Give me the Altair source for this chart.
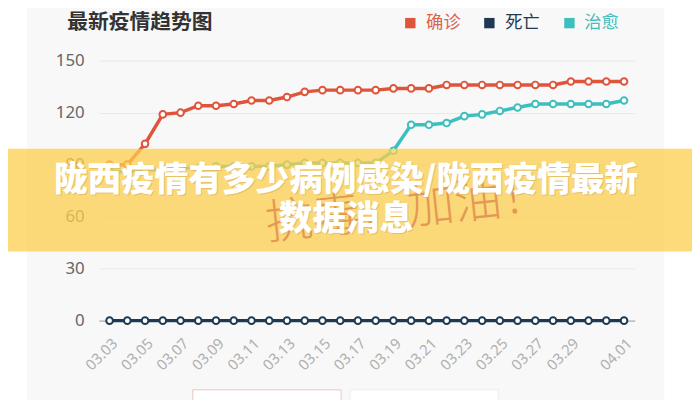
import altair as alt
import pandas as pd

# ---- data ----
dates = ["03.03", "03.04", "03.05", "03.06", "03.07", "03.08", "03.09", "03.10",
         "03.11", "03.12", "03.13", "03.14", "03.15", "03.16", "03.17", "03.18",
         "03.19", "03.20", "03.21", "03.22", "03.23", "03.24", "03.25", "03.26",
         "03.27", "03.28", "03.29", "03.30", "03.31", "04.01"]
confirmed = [90, 90, 102, 119, 120, 124, 124, 125, 127, 127, 129, 132, 133, 133, 133,
             133, 134, 134, 134, 136, 136, 136, 136, 136, 136, 136, 138, 138, 138, 138]
deaths = [0] * 30
cured = [86, 86, 87, 87, 88, 88, 89, 89, 89, 89, 90, 91, 91, 91, 91,
         91, 98, 113, 113, 114, 118, 119, 121, 123, 125, 125, 125, 125, 125, 127]
series = ["确诊", "死亡", "治愈"]
colors = ["#de553c", "#1e3a52", "#3dbfbe"]
legend_text_colors = ["#d9634f", "#223a50", "#45bcbc"]
x_labels = ["03.03", "03.05", "03.07", "03.09", "03.11", "03.13", "03.15", "03.17",
            "03.19", "03.21", "03.23", "03.25", "03.27", "03.29", "04.01"]
y_ticks = [0, 30, 60, 90, 120, 150]
chart_title = "最新疫情趋势图"
banner_line1 = "陇西疫情有多少病例感染/陇西疫情最新"
banner_line2 = "数据消息"
watermark = "抗毒，加油！"

rows = []
for name, vals in zip(series, [confirmed, deaths, cured]):
    for d, v in zip(dates, vals):
        rows.append({"date": d, "value": v, "series": name})
df = pd.DataFrame(rows)
one = pd.DataFrame({"a": [0]})

CJK = "Noto Sans CJK SC"
W, H = 542, 263

color_scale = alt.Scale(domain=series, range=colors)
xenc = alt.X("date:O", sort=dates,
             scale=alt.Scale(type="point", padding=0.6),
             axis=alt.Axis(values=x_labels, title=None, labelAngle=-45, labelAlign="right",
                           labelBaseline="middle", labelPadding=20, labelOffset=5,
                           labelColor="#b0b0b0", labelFontSize=15, labelFont="Noto Sans",
                           ticks=False, domainColor="#b8c4cd", domainWidth=2, grid=False))
yenc = alt.Y("value:Q", scale=alt.Scale(domain=[0, 150], nice=False),
             axis=alt.Axis(values=y_ticks, title=None, domain=False, ticks=False,
                           labelPadding=15, labelFontSize=17, labelColor="#666666",
                           labelFont="Noto Sans", gridColor="#e8e8e8", gridWidth=1))

lines = alt.Chart(df).mark_line(strokeWidth=3.5).encode(
    x=xenc, y=yenc,
    color=alt.Color("series:N", scale=color_scale, legend=None),
    detail="series:N")
points = alt.Chart(df).mark_point(filled=True, fill="white", size=45, strokeWidth=2,
                                  opacity=1).encode(
    x=alt.X("date:O", sort=dates), y="value:Q",
    stroke=alt.Color("series:N", scale=color_scale, legend=None))

def rect(x, x2, y, y2, fill, stroke=None, opacity=1.0):
    kw = dict(fill=fill, opacity=opacity)
    if stroke:
        kw.update(stroke=stroke, strokeWidth=1)
    return alt.Chart(one).mark_rect(**kw).encode(
        x=alt.value(x), x2=alt.value(x2), y=alt.value(y), y2=alt.value(y2))

def text(t, x, y, size, color, weight="normal", align="left", angle=None, opacity=1.0,
         font=CJK):
    kw = dict(text=t, fontSize=size, color=color, fontWeight=weight, align=align,
              baseline="middle", font=font, opacity=opacity)
    if angle is not None:
        kw["angle"] = angle
    return alt.Chart(one).mark_text(**kw).encode(x=alt.value(x), y=alt.value(y))

# plot coords: x = page_x - 100, y = page_y - 59
layers = [
    rect(-100, -73, -60, 345, "white"),
    rect(572, 620, -60, 345, "white"),
    rect(95, 245, 333, 360, "white", stroke="#e6c6bf"),
    rect(254, 404, 333, 360, "white", stroke="#ececec"),
    lines, points,
    text(chart_title, -32, -38.5, 21, "#333333", weight="bold"),
]
legend_sq_x = [315, 395, 476]
legend_tx_x = [331, 411, 491]
for i in range(3):
    layers.append(alt.Chart(one).mark_square(size=110, color=colors[i], opacity=1).encode(
        x=alt.value(legend_sq_x[i]), y=alt.value(-38)))
    layers.append(text(series[i], legend_tx_x[i], -38, 17.5, legend_text_colors[i]))

layers += [
    rect(-100, 620, 89, 193, "#fccf4f", opacity=0.75),
    text(watermark, 312, 152, 48, "#e0894c", weight=300, align="center", angle=354,
         opacity=0.8),
    text(banner_line1, 251, 123, 34, "#d6a955", weight=900, align="center", opacity=0.5),
    text(banner_line2, 251, 162, 34, "#d6a955", weight=900, align="center", opacity=0.5),
    text(banner_line1, 250, 122, 34, "white", weight=900, align="center"),
    text(banner_line2, 250, 161, 34, "white", weight=900, align="center"),
]

chart = alt.layer(*layers).properties(
    width=W, height=H,
    autosize=alt.AutoSizeParams(type="none"),
    padding={"left": 92, "top": 51, "right": 58, "bottom": 78},
    background="#f8f8f8",
).configure_view(stroke=None)

chart.save("out.html", embed_options={"renderer": "svg", "actions": False})
